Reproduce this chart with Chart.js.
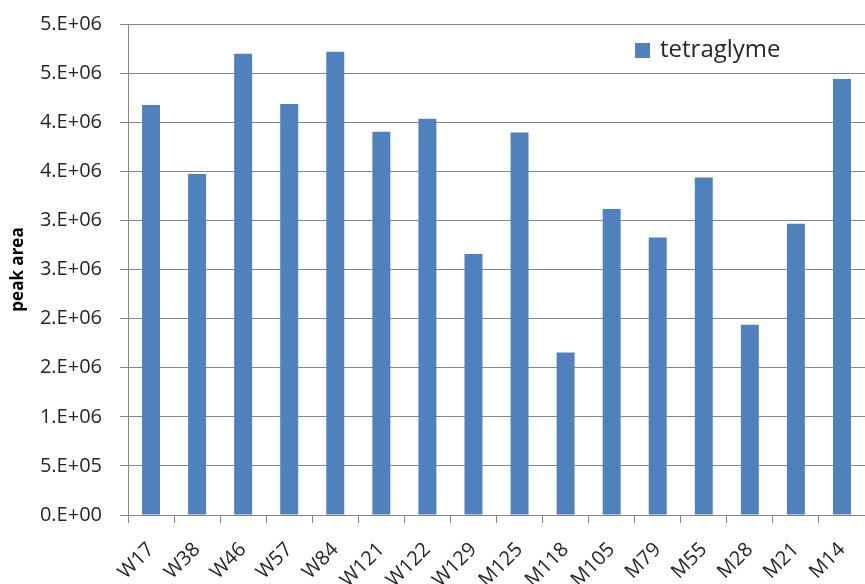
<!DOCTYPE html>
<html>
<head>
<meta charset="utf-8">
<script src="https://cdn.jsdelivr.net/npm/chart.js@4/dist/chart.umd.min.js"></script>
<style>
  body { margin: 0; background: #fff; }
  #wrap { width: 865px; height: 584px; position: relative; }
</style>
</head>
<body>
<div id="wrap"><canvas id="bar-chart"></canvas></div>
<script>
const samples = ['W17', 'W38', 'W46', 'W57', 'W84', 'W121', 'W122', 'W129',
                 'M125', 'M118', 'M105', 'M79', 'M55', 'M28', 'M21', 'M14'];
const tetraglyme = [4176000, 3473000, 4698000, 4186000, 4718000, 3904000, 4036000, 2659000,
                    3894000, 1655000, 3117000, 2825000, 3436000, 1937000, 2965000, 4440000];
// Excel "0.E+00" style labels, bottom to top
const yTickLabels = ['0.E+00', '5.E+05', '1.E+06', '2.E+06', '2.E+06', '3.E+06',
                     '3.E+06', '4.E+06', '4.E+06', '5.E+06', '5.E+06'];

const barColor = '#4F81BD';
const lineColor = '#868686';
const textColor = '#262626';

// legend drawn inside the plot, top right
const insideLegend = {
    id: 'insideLegend',
    afterDraw(chart) {
        const ctx = chart.ctx;
        const area = chart.chartArea;
        const ds = chart.data.datasets[0];
        const x = area.right - 230;
        const y = area.top + 19;
        ctx.save();
        ctx.fillStyle = ds.backgroundColor;
        ctx.fillRect(x, y, 15, 15);
        ctx.fillStyle = textColor;
        ctx.font = '24px "Open Sans"';
        ctx.textBaseline = 'middle';
        ctx.fillText(ds.label, x + 25, y + 7);
        ctx.restore();
    }
};

const ctx = document.getElementById('bar-chart').getContext('2d');
new Chart(ctx, {
    type: 'bar',
    data: {
        labels: samples,
        datasets: [{
            label: 'tetraglyme',
            data: tetraglyme,
            backgroundColor: barColor,
            borderWidth: 0,
            categoryPercentage: 1,
            barPercentage: 0.39
        }]
    },
    options: {
        responsive: true,
        maintainAspectRatio: false,
        animation: false,
        layout: { padding: { top: 24, right: 0, left: 0, bottom: 0 } },
        plugins: {
            legend: { display: false },
            tooltip: { enabled: false }
        },
        scales: {
            x: {
                grid: {
                    display: true,
                    drawOnChartArea: false,
                    drawTicks: true,
                    tickLength: 8,
                    color: lineColor
                },
                border: { color: lineColor },
                ticks: {
                    autoSkip: false,
                    minRotation: 45,
                    maxRotation: 45,
                    padding: 15,
                    color: textColor,
                    font: { family: '"Open Sans"', size: 20 }
                },
                afterFit: scale => {
                    scale.height = 69;
                    scale.paddingLeft = 0;
                    scale.paddingRight = 0;
                }
            },
            y: {
                min: 0,
                max: 5000000,
                ticks: {
                    stepSize: 500000,
                    padding: 18,
                    color: textColor,
                    font: { family: '"Open Sans"', size: 20 },
                    callback: (value, index) => yTickLabels[index]
                },
                grid: {
                    color: lineColor,
                    tickLength: 8
                },
                border: { color: lineColor },
                title: {
                    display: true,
                    text: 'peak area',
                    color: '#000',
                    padding: { top: 8, bottom: 0 },
                    font: { family: '"Open Sans"', size: 17, weight: 'bold' }
                },
                afterFit: scale => {
                    scale.width = 128;
                    scale.paddingTop = 0;
                    scale.paddingBottom = 0;
                }
            }
        }
    },
    plugins: [insideLegend]
});
</script>
</body>
</html>
